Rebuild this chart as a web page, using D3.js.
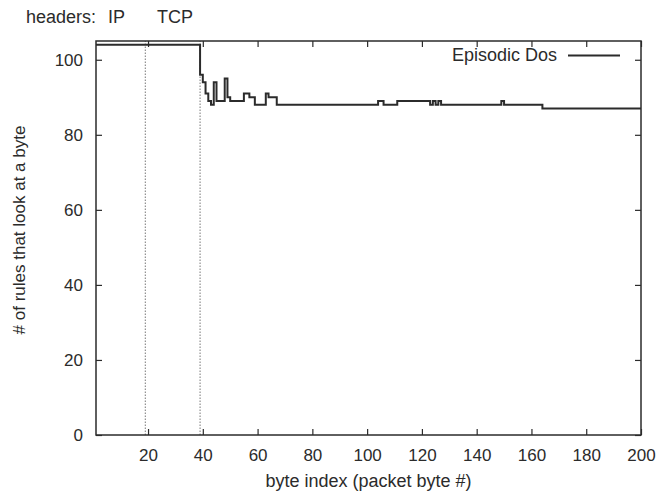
<!DOCTYPE html>
<html>
  <head>
    <meta charset="utf-8">
    <title>rules per byte</title>
    <script src="https://d3js.org/d3.v7.min.js"></script>
    <style>
      body { margin: 0; background: #fff; }
      text { font-family: "Liberation Sans", Arial, sans-serif; fill: #2b2b2b; }
    </style>
  </head>
  <body>
    <script>
      // step data: byte index where a level starts, and the level
      var stepBytes = [1, 39, 40, 41, 42, 43, 44, 45, 48, 49, 50, 55, 57, 59, 63, 64, 67,
          104, 106, 111, 123, 124, 125, 126, 127, 128, 149, 150, 164, 200],
        stepRules = [104, 96, 94, 91, 89, 88, 94, 89, 95, 90, 89, 91, 90, 88, 91, 90, 88,
          89, 88, 89, 88, 89, 88, 89, 88, 88, 89, 88, 87, 87];

      // header boundaries (dotted lines) and labels
      var headerBytes = [19, 39],
        headerNames = ["IP", "TCP"];

      var xTicks = [20, 40, 60, 80, 100, 120, 140, 160, 180, 200],
        yTicks = [0, 20, 40, 60, 80, 100];

      var seriesName = "Episodic Dos";

      var width = 662,
        height = 492,
        margin = {left: 96, right: 21, top: 41, bottom: 57},
        ink = "#2b2b2b";

      var svg = d3.select("body").append("svg")
        .attr("width", width)
        .attr("height", height);

      var x = d3.scaleLinear()
        .domain([1, 200])
        .range([margin.left, width - margin.right]);

      var y = d3.scaleLinear()
        .domain([0, 105])
        .range([height - margin.bottom, margin.top]);

      // gnuplot style: ticks point inwards and are mirrored
      function styleAxis(g) {
        g.select(".domain").remove();
        g.selectAll(".tick line").attr("stroke", ink).attr("stroke-width", 1.2);
        g.selectAll(".tick text").style("font-size", "17px");
      }

      svg.append("g")
        .attr("transform", "translate(0," + y(0) + ")")
        .call(d3.axisBottom(x).tickValues(xTicks).tickSizeInner(-6).tickSizeOuter(0).tickPadding(14))
        .call(styleAxis);

      svg.append("g")
        .attr("transform", "translate(0," + y(105) + ")")
        .call(d3.axisTop(x).tickValues(xTicks).tickSizeInner(-6).tickSizeOuter(0).tickFormat(""))
        .call(styleAxis);

      svg.append("g")
        .attr("transform", "translate(" + x(1) + ",0)")
        .call(d3.axisLeft(y).tickValues(yTicks).tickSizeInner(-6).tickSizeOuter(0).tickPadding(13))
        .call(styleAxis);

      svg.append("g")
        .attr("transform", "translate(" + x(200) + ",0)")
        .call(d3.axisRight(y).tickValues(yTicks).tickSizeInner(-6).tickSizeOuter(0).tickFormat(""))
        .call(styleAxis);

      // dotted header boundaries
      svg.selectAll("line.header")
        .data(headerBytes)
        .enter().append("line")
          .attr("class", "header")
          .attr("x1", function(d) { return x(d); })
          .attr("x2", function(d) { return x(d); })
          .attr("y1", y(0))
          .attr("y2", y(105))
          .attr("stroke", "#777")
          .attr("stroke-width", 1)
          .attr("stroke-dasharray", "1.5,1.5");

      // the step line
      var line = d3.line()
        .x(function(d, i) { return x(stepBytes[i]); })
        .y(function(d) { return y(d); })
        .curve(d3.curveStepAfter);

      svg.append("path")
        .datum(stepRules)
        .attr("d", line)
        .attr("fill", "none")
        .attr("stroke", ink)
        .attr("stroke-width", 2);

      // frame
      svg.append("rect")
        .attr("x", x(1))
        .attr("y", y(105))
        .attr("width", x(200) - x(1))
        .attr("height", y(0) - y(105))
        .attr("fill", "none")
        .attr("stroke", ink)
        .attr("stroke-width", 1.5);

      // legend
      svg.append("text")
        .attr("x", 557)
        .attr("y", 61)
        .attr("text-anchor", "end")
        .style("font-size", "18px")
        .text(seriesName);

      svg.append("line")
        .attr("x1", 568)
        .attr("x2", 620)
        .attr("y1", 55.5)
        .attr("y2", 55.5)
        .attr("stroke", ink)
        .attr("stroke-width", 2);

      // header labels above the plot
      svg.append("text")
        .attr("x", 26)
        .attr("y", 23)
        .style("font-size", "18px")
        .text("headers:");

      svg.selectAll("text.hname")
        .data(headerNames)
        .enter().append("text")
          .attr("class", "hname")
          .attr("x", function(d, i) { return [108, 157][i]; })
          .attr("y", 23)
          .style("font-size", "18px")
          .text(function(d) { return d; });

      // axis titles
      svg.append("text")
        .attr("x", (x(1) + x(200)) / 2)
        .attr("y", 487)
        .attr("text-anchor", "middle")
        .style("font-size", "18px")
        .text("byte index (packet byte #)");

      svg.append("text")
        .attr("transform", "translate(25," + 230 + ") rotate(-90)")
        .attr("text-anchor", "middle")
        .style("font-size", "17px")
        .text("# of rules that look at a byte");
    </script>
  </body>
</html>
